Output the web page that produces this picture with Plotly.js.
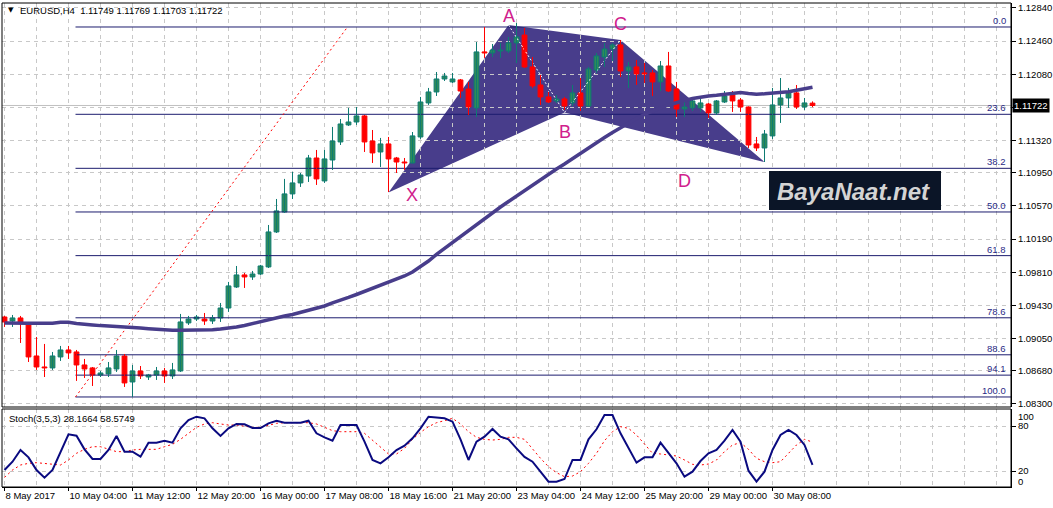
<!DOCTYPE html>
<html><head><meta charset="utf-8">
<script src="https://cdn.plot.ly/plotly-3.0.1.min.js"></script>
<style>html,body{margin:0;padding:0;background:#fff;}#chart{width:1053px;height:508px;}</style>
</head><body><div id="chart"></div>
<script>
// ---------- DATA ----------
const symbolTitle = "EURUSD,H4";
const lastQuote = ["1.11749", "1.11769", "1.11703", "1.11722"];
const timeLabels = ["8 May 2017","10 May 04:00","11 May 12:00","12 May 20:00","16 May 00:00","17 May 08:00","18 May 16:00","21 May 20:00","23 May 04:00","24 May 12:00","25 May 20:00","29 May 00:00","30 May 08:00"];
const labelBars = [0,8,16,24,32,40,48,56,64,72,80,88,96];
const priceTicks = [1.12840,1.12460,1.12080,1.11700,1.11320,1.10950,1.10570,1.10190,1.09810,1.09430,1.09050,1.08680,1.08300];

const open = [
1.09297,1.09251,1.09286,1.09229,1.08850,1.08724,1.08713,1.08839,1.08919,1.08896,
1.08747,1.08713,1.08632,1.08644,1.08701,1.08850,1.08552,1.08678,1.08609,1.08632,
1.08678,1.08621,1.08678,1.09229,1.09274,1.09274,1.09251,1.09286,1.09400,1.09641,
1.09779,1.09756,1.09790,1.09871,1.10272,1.10501,1.10708,1.10834,1.10914,1.11120,
1.10857,1.11097,1.11304,1.11499,1.11533,1.11602,1.11315,1.11189,1.11281,1.11120,
1.11074,1.11063,1.11361,1.11751,1.11877,1.12026,1.11992,1.12015,1.11911,1.11694,
1.12336,1.12324,1.12347,1.12347,1.12439,1.12530,1.12164,1.11957,1.11820,1.11774,
1.11797,1.11751,1.11866,1.11716,1.12129,1.12278,1.12370,1.12416,1.12118,1.12164,
1.12095,1.12095,1.11992,1.12175,1.11911,1.11682,1.11694,1.11694,1.11739,1.11636,
1.11762,1.11843,1.11785,1.11705,1.11281,1.11235,1.11373,1.11728,1.11808,1.11866,
1.11705,1.11749];
const high = [
1.09309,1.09320,1.09309,1.09240,1.09068,1.08988,1.08896,1.08965,1.08965,1.08919,
1.08816,1.08724,1.08678,1.08781,1.08919,1.08873,1.08747,1.08735,1.08644,1.08724,
1.08713,1.08770,1.09332,1.09309,1.09320,1.09343,1.09320,1.09458,1.09699,1.09882,
1.09802,1.09825,1.09894,1.10352,1.10650,1.10880,1.10960,1.10948,1.11155,1.11212,
1.11212,1.11476,1.11567,1.11694,1.11705,1.11613,1.11441,1.11350,1.11361,1.11132,
1.11120,1.11418,1.11820,1.11923,1.12106,1.12095,1.12095,1.12026,1.11992,1.12450,
1.12622,1.12427,1.12439,1.12508,1.12668,1.12611,1.12278,1.12072,1.11877,1.11843,
1.11820,1.11957,1.12037,1.12164,1.12324,1.12439,1.12439,1.12473,1.12221,1.12244,
1.12209,1.12129,1.12232,1.12336,1.11992,1.11762,1.11808,1.11797,1.11751,1.11785,
1.11888,1.11888,1.11808,1.11711,1.11361,1.11441,1.11923,1.12037,1.11923,1.11957,
1.11808,1.11769];
const low = [
1.09183,1.09183,1.08999,1.08781,1.08690,1.08609,1.08690,1.08793,1.08816,1.08564,
1.08598,1.08506,1.08609,1.08609,1.08667,1.08495,1.08380,1.08586,1.08575,1.08575,
1.08541,1.08586,1.08667,1.09206,1.09251,1.09206,1.09217,1.09240,1.09355,1.09630,
1.09630,1.09722,1.09779,1.09859,1.10260,1.10490,1.10650,1.10788,1.10845,1.10811,
1.10834,1.10983,1.11269,1.11487,1.11499,1.11189,1.11063,1.11017,1.10730,1.10948,
1.10983,1.11057,1.11338,1.11728,1.11831,1.12003,1.11980,1.11808,1.11613,1.11590,
1.12267,1.12278,1.12267,1.12324,1.12209,1.12152,1.11923,1.11728,1.11751,1.11751,
1.11671,1.11716,1.11659,1.11705,1.12095,1.12164,1.12232,1.12049,1.11923,1.11957,
1.11980,1.11831,1.11888,1.11877,1.11590,1.11590,1.11659,1.11648,1.11579,1.11613,
1.11751,1.11648,1.11648,1.11235,1.11200,1.11074,1.11338,1.11522,1.11694,1.11682,
1.11671,1.11703];
const close = [
1.09240,1.09286,1.09240,1.08839,1.08724,1.08713,1.08850,1.08919,1.08885,1.08747,
1.08701,1.08632,1.08655,1.08713,1.08850,1.08541,1.08678,1.08621,1.08632,1.08678,
1.08621,1.08690,1.09240,1.09274,1.09297,1.09251,1.09286,1.09400,1.09653,1.09779,
1.09756,1.09790,1.09882,1.10272,1.10513,1.10708,1.10834,1.10925,1.11120,1.10880,
1.11109,1.11315,1.11510,1.11533,1.11602,1.11304,1.11178,1.11281,1.11109,1.11074,
1.11063,1.11373,1.11762,1.11877,1.12026,1.12060,1.12026,1.11888,1.11705,1.12336,
1.12324,1.12358,1.12358,1.12439,1.12508,1.12164,1.11946,1.11820,1.11762,1.11797,
1.11716,1.11866,1.11716,1.12141,1.12290,1.12370,1.12416,1.12118,1.12164,1.12083,
1.12083,1.11992,1.12175,1.11888,1.11682,1.11705,1.11774,1.11751,1.11636,1.11774,
1.11831,1.11774,1.11705,1.11269,1.11235,1.11395,1.11728,1.11808,1.11877,1.11705,
1.11751,1.11722];
const movingAvg = [
1.09229,1.09225,1.09225,1.09225,1.09225,1.09225,1.09225,1.09237,1.09237,1.09223,
1.09211,1.09206,1.09198,1.09194,1.09188,1.09183,1.09179,1.09171,1.09163,1.09156,
1.09148,1.09145,1.09145,1.09145,1.09145,1.09148,1.09152,1.09160,1.09168,1.09183,
1.09200,1.09223,1.09246,1.09269,1.09292,1.09309,1.09326,1.09349,1.09372,1.09395,
1.09423,1.09458,1.09486,1.09521,1.09555,1.09590,1.09624,1.09658,1.09693,1.09727,
1.09767,1.09813,1.09871,1.09939,1.10014,1.10083,1.10151,1.10220,1.10289,1.10352,
1.10421,1.10490,1.10558,1.10621,1.10685,1.10748,1.10811,1.10868,1.10931,1.10994,
1.11051,1.11114,1.11172,1.11235,1.11298,1.11355,1.11413,1.11470,1.11522,1.11573,
1.11619,1.11659,1.11694,1.11728,1.11757,1.11779,1.11802,1.11820,1.11831,1.11839,
1.11848,1.11860,1.11871,1.11860,1.11851,1.11856,1.11863,1.11869,1.11879,1.11896,
1.11914,1.11931];
const stochK = [
21.3,32.4,48,38.2,21.3,11.1,21.3,45.8,68.9,67.1,
48.9,36,36,48,66.7,45.8,45.8,39.1,57.8,57.8,
60.4,57.8,76.9,88,92.4,90.2,76.9,66.7,76.9,82.7,
82.2,77.3,77.3,83.6,87.1,84.4,84.9,84.4,87.1,70.2,
64.9,60.4,81.3,81.3,81.3,59.1,34.7,30.2,38.2,48,
53.8,63.6,76.9,92.4,91.6,90.2,85.8,62.2,34.7,59.1,
65.8,76,65.8,62.2,50.2,38.7,32.4,19.1,5.8,5.8,
9.3,34.7,34.7,62.2,75.6,94.7,94.7,70.2,51.1,31.1,
38.2,38.2,57.8,43.6,30.2,12.4,19.1,33.3,43.6,48,
60.4,74.7,59.1,20.4,5.8,19.1,48,68,74.7,68,
54.7,28.1664];
const stochD = [
11.5,21.3,28,30.2,31.1,30.2,28.9,28,34.7,43.6,
48.9,52.4,52.4,48.9,45.8,45.8,48,48.9,48.9,48.9,
52.4,55.6,62.2,70.2,78.2,82.7,84.4,82.7,81.3,81.3,
80,78.2,78.2,81.3,83.6,84.4,84.4,84.4,84.4,82.7,
78.2,73.8,72.4,72.4,72.4,70.2,61.3,51.6,42.7,42.7,
50.2,62.2,71.6,79.1,84.4,87.1,90.2,82.7,72.4,64.9,
62.2,61.3,62.2,64.9,64.9,62.2,48.9,36.9,25.8,17.8,
12.4,13.3,19.1,30.2,43.6,60.4,72.4,79.1,76.9,68,
56,43.6,42.7,41.3,40,34.7,28.9,28,29.3,34.7,
45.8,54.7,57.8,48.9,36.9,32.4,31.1,32.4,43.6,54.7,
62.2,58.5749];
// Fibonacci retracement
const fibLevels = [0.0,23.6,38.2,50.0,61.8,78.6,88.6,94.1,100.0];
const fibHighPrice = 1.12622, fibLowPrice = 1.08380;
const fibStartBar = 8.875, fibEndBar = 42.875;
// Harmonic pattern points
const patternNames = ["X","A","B","C","D"];
const patternBars = [48,63,70,77,95];
const patternPrices = [1.10725,1.12645,1.11642,1.12473,1.11074];

// ---------- BUILD ----------
const n = open.length;
const bars = open.map((_, i) => i);
const xEnd = 125.8125;
const upC = {wick:'#0E7B72', fill:'#2E8B57', edge:'#0E7B72'};
const dnC = {wick:'#FF0000', fill:'#FF0000', edge:'#FF0000'};

function wickTrace(up) {
  const xs = [], ys = [];
  for (let i = 0; i < n; i++) {
    if ((close[i] >= open[i]) !== up) continue;
    xs.push(i, i, null); ys.push(low[i], high[i], null);
  }
  return {type:'scatter', mode:'lines', x:xs, y:ys, xaxis:'x', yaxis:'y',
    line:{color: up ? upC.wick : dnC.wick, width:1}, hoverinfo:'skip'};
}
function bodyTrace(up) {
  const xs = [], base = [], h = [];
  for (let i = 0; i < n; i++) {
    if ((close[i] >= open[i]) !== up) continue;
    xs.push(i);
    const lo = Math.min(open[i], close[i]);
    const d = Math.abs(close[i] - open[i]);
    base.push(lo); h.push(Math.max(d, 0.00004));
  }
  return {type:'bar', x:xs, y:h, base:base, width:0.6, xaxis:'x', yaxis:'y',
    marker:{color: up ? upC.fill : dnC.fill, line:{color: up ? upC.edge : dnC.edge, width:1}},
    hoverinfo:'skip'};
}

const fibPrice = fibLevels.map(l => fibHighPrice - l / 100 * (fibHighPrice - fibLowPrice));
const fibX = [], fibY = [];
fibPrice.forEach(p => { fibX.push(fibStartBar, xEnd, null); fibY.push(p, p, null); });

const P = {}; patternNames.forEach((nm, k) => P[nm] = [patternBars[k], patternPrices[k]]);

const traces = [
  {type:'scatter', mode:'lines', x:fibX, y:fibY, line:{color:'#1C1C6E', width:1}, hoverinfo:'skip'},
  {type:'scatter', mode:'lines', x:[fibStartBar, fibEndBar], y:[fibLowPrice, fibHighPrice],
    line:{color:'#FF0000', width:1, dash:'2px,3px'}, hoverinfo:'skip'},
  {type:'scatter', mode:'lines', x:[P.A[0], P.B[0], P.C[0]], y:[P.A[1], P.B[1], P.C[1]],
    line:{color:'#FFFFFF', width:1, dash:'2px,2px'}, hoverinfo:'skip'},
  wickTrace(true), wickTrace(false), bodyTrace(true), bodyTrace(false),
  {type:'scatter', mode:'lines', x:bars, y:movingAvg, line:{color:'#483D8B', width:3.5}, hoverinfo:'skip'},
  {type:'scatter', mode:'lines', x:bars, y:stochD, xaxis:'x', yaxis:'y2',
    line:{color:'#FF0000', width:1, dash:'2px,3px'}, hoverinfo:'skip'},
  {type:'scatter', mode:'lines', x:bars, y:stochK, xaxis:'x', yaxis:'y2',
    line:{color:'#0A0A80', width:2}, hoverinfo:'skip'}
];

// polygon of the pattern (X-A-C-D-B)
const poly = ['X','A','C','D','B'].map((k, j) => (j ? 'L' : 'M') + P[k][0] + ',' + P[k][1]).join(' ') + ' Z';

const gridBars = []; for (let b = 0; b <= 124; b += 4) gridBars.push(b);

const FONT = '"Liberation Sans", Arial, sans-serif';
const gridC = '#C8C8C8';
const PB = 487, PH = 484; // plot bottom px, plot height px
const py = y => (PB - y) / PH;
const px = x => (x - 2) / 1009;

const annotations = [
  {xref:'paper', yref:'paper', x:px(6), y:py(10), xanchor:'left', yanchor:'middle', showarrow:false,
    text:'▼', font:{family:'DejaVu Sans', size:7, color:'#000'}},
  {xref:'paper', yref:'paper', x:px(18), y:py(10), xanchor:'left', yanchor:'middle', showarrow:false,
    text: symbolTitle + '\u00a0\u00a0' + lastQuote.join(' '), font:{family:FONT, size:9.5, color:'#000'}},
  {xref:'paper', yref:'paper', x:px(7), y:py(418), xanchor:'left', yanchor:'middle', showarrow:false,
    text:'Stoch(3,5,3) ' + stochK[n-1].toFixed(4) + ' ' + stochD[n-1].toFixed(4), font:{family:FONT, size:9.5, color:'#000'}},
  {xref:'paper', yref:'y', x:1.001, y:close[n-1], xanchor:'left', yanchor:'middle', showarrow:false,
    text:close[n-1].toFixed(5), bgcolor:'#000', borderpad:1, font:{family:FONT, size:9.5, color:'#fff'}},
  {xref:'paper', yref:'paper', x:px(1016), y:py(416), xanchor:'left', yanchor:'middle', showarrow:false,
    text:'100', font:{family:FONT, size:9.5, color:'#000'}},
  {xref:'paper', yref:'paper', x:px(1016), y:py(481), xanchor:'left', yanchor:'middle', showarrow:false,
    text:'0', font:{family:FONT, size:9.5, color:'#000'}},
  {xref:'paper', yref:'paper', x:px(853), y:py(191), xanchor:'center', yanchor:'middle', showarrow:false,
    text:'BayaNaat.net', font:{family:FONT, size:24, color:'#D4D4D4', weight:700, style:'italic'}}
];
fibLevels.forEach((l, k) => annotations.push({xref:'paper', yref:'y', x:px(1007), y:fibPrice[k],
  xanchor:'right', yanchor:'bottom', showarrow:false, text:l.toFixed(1),
  font:{family:FONT, size:9.5, color:'#2A2A86'}, borderpad:0}));
const letterShift = {X:[23,-3], A:[0,9], B:[0,-20], C:[0,16], D:[-80,-19]};
patternNames.forEach(k => annotations.push({xref:'x', yref:'y', x:P[k][0], y:P[k][1],
  xshift:letterShift[k][0], yshift:letterShift[k][1], showarrow:false, text:k,
  font:{family:FONT, size:18, color:'#D0208C'}}));

const layout = {
  width:1053, height:508, margin:{l:2, r:42, t:3, b:21},
  paper_bgcolor:'#FFFFFF', plot_bgcolor:'#FFFFFF', showlegend:false, barmode:'overlay',
  font:{family:FONT, size:9.5, color:'#000'},
  xaxis:{range:[-0.3125, xEnd], anchor:'y2', tickmode:'array', tickvals:labelBars, ticktext:timeLabels,
    tickangle:0, ticks:'outside', ticklen:3, tickcolor:'#000', showline:true, linecolor:'#000', linewidth:1,
    showgrid:true, gridcolor:gridC, griddash:'4px,4px', gridwidth:1, zeroline:false,
    ticklabelposition:'outside right', automargin:false,
    minor:{tickmode:'array', tickvals:gridBars, ticks:'', showgrid:true, gridcolor:gridC, griddash:'4px,4px', gridwidth:1},
    tickfont:{family:FONT, size:9.5, color:'#000'}, fixedrange:true},
  yaxis:{domain:[(PB-407)/PH, 1], range:[1.08265, 1.12897], side:'right', tickmode:'array',
    tickvals:priceTicks, ticktext:priceTicks.map(v => Math.abs(v - close[n-1]) < 0.0003 ? '' : v.toFixed(5)),
    ticks:'outside', ticklen:4, automargin:false,
    tickcolor:'#000', showline:true, linecolor:'#000', showgrid:true, gridcolor:gridC,
    griddash:'4px,4px', zeroline:false, tickfont:{family:FONT, size:9.5, color:'#000'}, fixedrange:true},
  yaxis2:{domain:[0, (PB-409)/PH], range:[-1.33, 102.67], side:'right', tickmode:'array',
    tickvals:[80,20], ticktext:['80','20'], ticks:'outside', ticklen:4, tickcolor:'#000', automargin:false,
    showline:true, linecolor:'#000', showgrid:true, gridcolor:gridC, griddash:'4px,4px',
    zeroline:false, tickfont:{family:FONT, size:9.5, color:'#000'}, fixedrange:true},
  shapes:[
    {type:'path', path:poly, xref:'x', yref:'y', fillcolor:'#483D8B', line:{width:0}, layer:'below'},
    {type:'line', xref:'paper', x0:0, x1:1, yref:'y', y0:close[n-1], y1:close[n-1],
      line:{color:'#C0C0C0', width:1}, layer:'between'},
    {type:'rect', xref:'paper', x0:0, x1:1, yref:'y domain', y0:0, y1:1, line:{color:'#000', width:1}},
    {type:'rect', xref:'paper', x0:0, x1:1, yref:'y2 domain', y0:0, y1:1, line:{color:'#000', width:1}},
    {type:'rect', xref:'paper', yref:'paper', x0:px(769), x1:px(941), y0:py(210), y1:py(171),
      fillcolor:'#0B1527', line:{width:0}, layer:'above'}
  ],
  annotations: annotations
};

Plotly.newPlot('chart', traces, layout, {staticPlot:true, displayModeBar:false});
</script>
</body></html>
